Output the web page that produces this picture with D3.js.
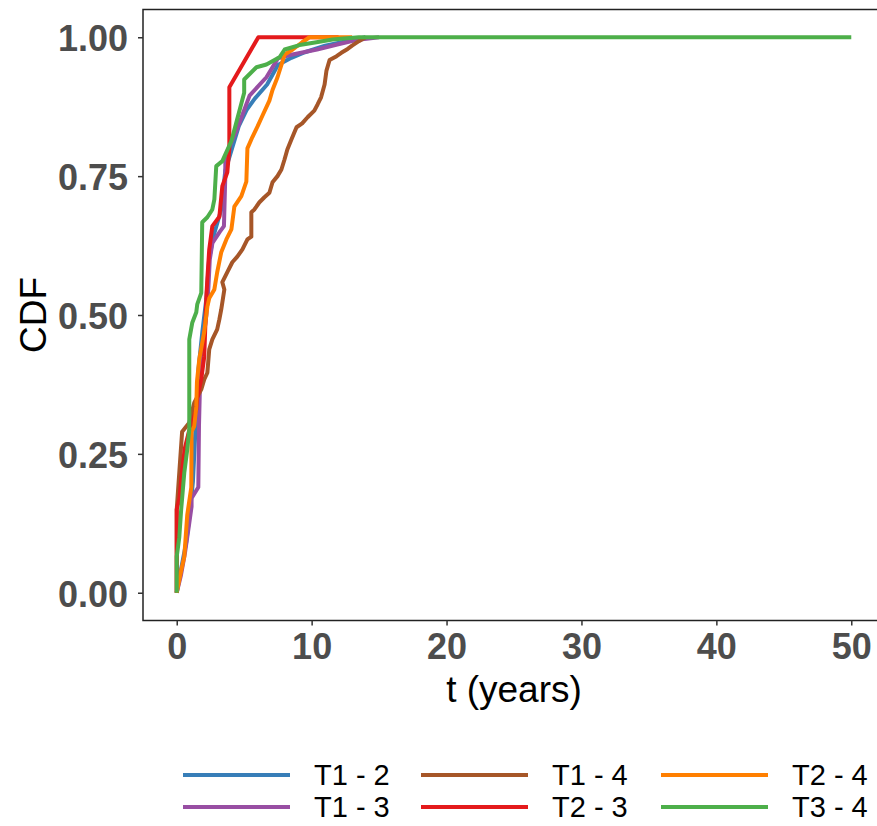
<!DOCTYPE html>
<html><head><meta charset="utf-8">
<script src="https://cdn.jsdelivr.net/npm/d3@7/dist/d3.min.js"></script>
<style>body{margin:0;background:#fff}svg{display:block}</style>
</head><body>
<svg id="chart" width="877" height="826"></svg>
<script>
// ---- data ----
const seriesNames = ["T1 - 2","T1 - 3","T1 - 4","T2 - 3","T2 - 4","T3 - 4"];
const seriesColors = ["#377EB8","#984EA3","#A65628","#E41A1C","#FF7F00","#4DAF4A"];
const xTicks = [0,10,20,30,40,50];
const yTicks = [0,0.25,0.5,0.75,1];

const T12 = [[0,0],[0.3,0.04],[0.7,0.09],[1.0,0.15],[1.2,0.2],[1.4,0.3],[1.6,0.4],[1.9,0.47],[2.2,0.53],[2.4,0.6],[2.7,0.64],[3.3,0.69],[3.6,0.76],[4.1,0.8],[4.6,0.84],[5.2,0.87],[5.8,0.89],[6.7,0.915],[7.5,0.95],[8.5,0.963],[9.5,0.973],[11,0.985],[13,0.995],[14,1]];
const T13 = [[0,0],[0.3,0.03],[0.6,0.07],[0.9,0.12],[1.1,0.155],[1.1,0.17],[1.6,0.19],[1.65,0.3],[1.75,0.4],[1.8,0.42],[2.2,0.5],[2.35,0.55],[2.45,0.6],[2.65,0.63],[3.2,0.65],[3.5,0.66],[3.6,0.75],[3.6,0.78],[3.85,0.8],[4.4,0.83],[5.4,0.895],[6.65,0.928],[7.5,0.962],[8.4,0.968],[10.4,0.978],[11.9,0.987],[13.3,0.995],[15,1]];
const T14 = [[0,0],[0,0.15],[0.2,0.22],[0.4,0.29],[0.93,0.306],[1.3,0.342],[1.82,0.366],[2.04,0.384],[2.27,0.396],[2.41,0.438],[2.64,0.456],[3.0,0.474],[3.16,0.492],[3.3,0.51],[3.53,0.546],[3.38,0.559],[3.75,0.577],[4.12,0.595],[4.49,0.605],[4.87,0.618],[5.24,0.636],[5.53,0.641],[5.53,0.685],[5.76,0.69],[6.13,0.703],[6.5,0.712],[6.87,0.72],[7.1,0.739],[7.47,0.75],[7.76,0.762],[7.99,0.78],[8.2,0.798],[8.5,0.816],[8.88,0.838],[9.3,0.845],[9.7,0.856],[10.2,0.868],[10.44,0.879],[10.7,0.892],[10.96,0.915],[11.1,0.94],[11.33,0.959],[11.85,0.966],[12.2,0.972],[12.67,0.979],[13.0,0.985],[13.5,0.993],[14,1]];
const T23 = [[0,0],[0,0.15],[0.2,0.17],[0.4,0.22],[0.6,0.26],[0.9,0.29],[1.2,0.31],[1.45,0.33],[1.52,0.35],[1.82,0.385],[2.04,0.425],[2.19,0.53],[2.27,0.565],[2.41,0.618],[2.64,0.66],[3.16,0.677],[3.38,0.732],[3.75,0.757],[3.9,0.8],[3.9,0.91],[6.05,1.0],[12,1]];
const T24 = [[0,0],[0.33,0.04],[0.56,0.065],[0.78,0.14],[1.08,0.19],[1.1,0.29],[1.3,0.3],[1.45,0.335],[1.5,0.38],[1.67,0.42],[2.04,0.47],[2.27,0.515],[2.41,0.53],[2.79,0.546],[3.0,0.577],[3.3,0.613],[3.68,0.636],[4.05,0.654],[4.27,0.695],[4.79,0.714],[5.16,0.74],[5.24,0.8],[5.6,0.82],[6.0,0.84],[6.3,0.856],[6.87,0.886],[7.1,0.905],[7.47,0.928],[7.77,0.951],[8.0,0.969],[8.6,0.978],[9.3,0.991],[9.84,1.0],[13,1]];
const T34 = [[0,0],[0,0.065],[0.19,0.1],[0.33,0.15],[0.56,0.216],[0.78,0.258],[0.93,0.294],[0.93,0.456],[1.15,0.486],[1.45,0.505],[1.52,0.519],[1.82,0.54],[1.89,0.667],[2.27,0.676],[2.64,0.69],[2.79,0.708],[2.93,0.768],[3.38,0.777],[4.05,0.813],[5.0,0.9],[5.0,0.924],[5.91,0.946],[6.65,0.951],[7.62,0.964],[8.0,0.978],[9.1,0.986],[10.36,0.991],[11.55,0.996],[13.5,1.0],[50,1.0]];
const seriesData = [T12,T13,T14,T23,T24,T34];

// ---- chart ----
const svg = d3.select("#chart");
const pLeft = 143, pRight = 885, pTop = 9.5, pBottom = 620.5;
const x = d3.scaleLinear().domain([-2.5,52.5]).range([pLeft,pRight]);
const y = d3.scaleLinear().domain([-0.05,1.05]).range([pBottom,pTop]);

const line = d3.line().x(d=>x(d[0])).y(d=>y(d[1]));
const g = svg.append("g");
seriesData.forEach((s,i)=>{
  g.append("path").datum(s).attr("d",line)
    .attr("fill","none").attr("stroke",seriesColors[i])
    .attr("stroke-width",4).attr("stroke-linejoin","round").attr("stroke-linecap","butt");
});

// panel border
svg.append("rect").attr("x",pLeft).attr("y",pTop).attr("width",pRight-pLeft).attr("height",pBottom-pTop)
  .attr("fill","none").attr("stroke","#222").attr("stroke-width",1.5);

// axes
const xAxis = svg.append("g").attr("transform",`translate(0,${pBottom})`)
  .call(d3.axisBottom(x).tickValues(xTicks).tickSize(5).tickPadding(8).tickFormat(d3.format("d")));
const yAxis = svg.append("g").attr("transform",`translate(${pLeft},0)`)
  .call(d3.axisLeft(y).tickValues(yTicks).tickSize(5).tickPadding(10).tickFormat(d3.format(".2f")));
[xAxis,yAxis].forEach(a=>{
  a.select(".domain").remove();
  a.selectAll(".tick line").attr("stroke","#333").attr("stroke-width",1.5);
  a.selectAll(".tick text").attr("fill","#4D4D4D").attr("font-family","Liberation Sans, Arial, sans-serif")
    .attr("font-weight","bold").attr("font-size",36);
});
yAxis.selectAll(".tick text").attr("dy","0.38em");

// axis titles
svg.append("text").attr("x",(pLeft+pRight)/2).attr("y",702).attr("text-anchor","middle")
  .attr("font-family","Liberation Sans, Arial, sans-serif").attr("font-size",37).attr("fill","#000")
  .text("t (years)");
svg.append("text").attr("transform",`translate(46,${(pTop+pBottom)/2}) rotate(-90)`).attr("text-anchor","middle")
  .attr("font-family","Liberation Sans, Arial, sans-serif").attr("font-size",37).attr("fill","#000")
  .text("CDF");

// legend (2 rows, filled by column)
const colX = [183, 421, 661];
const rowY = [775, 807];
const leg = svg.append("g");
seriesNames.forEach((n,i)=>{
  const c = Math.floor(i/2), r = i%2;
  leg.append("line").attr("x1",colX[c]).attr("x2",colX[c]+107).attr("y1",rowY[r]).attr("y2",rowY[r])
    .attr("stroke",seriesColors[i]).attr("stroke-width",4);
  leg.append("text").attr("x",colX[c]+131).attr("y",rowY[r]).attr("dy","0.36em")
    .attr("font-family","Liberation Sans, Arial, sans-serif").attr("font-size",29).attr("fill","#000")
    .text(n);
});
</script>
</body></html>
